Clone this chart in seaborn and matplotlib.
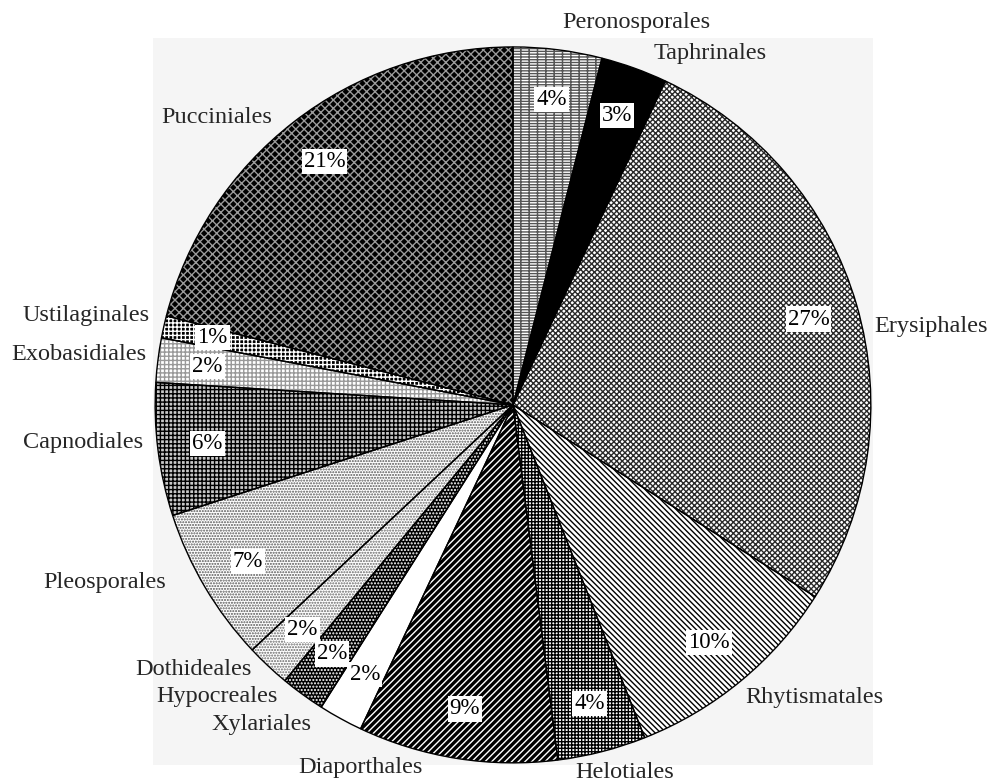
import matplotlib
matplotlib.use("Agg")
import matplotlib.pyplot as plt
import seaborn as sns

sns.set_style("white")
plt.rcParams['font.family'] = ['Liberation Serif', 'DejaVu Serif']
plt.rcParams['hatch.linewidth'] = 1.0

# fungal orders, clockwise from 12 o'clock
orders = ['Peronosporales', 'Taphrinales', 'Erysiphales', 'Rhytismatales', 'Helotiales',
          'Diaporthales', 'Xylariales', 'Hypocreales', 'Dothideales', 'Pleosporales',
          'Capnodiales', 'Exobasidiales', 'Ustilaginales', 'Pucciniales']
shares = [4, 3, 27, 10, 4, 9, 2, 2, 2, 7, 6, 2, 1, 21]

# face colour, hatch, hatch colour
styles = [
    ('white', '------||', '#555555'),
    ('black', '', 'black'),
    ('white', 'xxxxxx', '#2a2a2a'),
    ('white', '\\' * 6, 'black'),
    ('white', '+++++', 'black'),
    ('black', '/////', 'white'),
    ('white', '', 'white'),
    ('black', '.....', 'white'),
    ('white', '......', '#666666'),
    ('white', '......', '#555555'),
    ('#c8c8c8', '++++', 'black'),
    ('white', '++++', '#999999'),
    ('black', '++++', 'white'),
    ('black', 'xxxx', '#9a9a9a'),
]

# outer label positions (pie radius = 1)
label_pos = [(0.344, 1.067), (0.550, 0.983), (1.168, 0.218), (0.841, -0.818),
             (0.313, -1.028), (-0.425, -1.014), (-0.704, -0.894), (-0.827, -0.816),
             (-0.894, -0.740), (-1.140, -0.497), (-1.201, -0.106), (-1.212, 0.140),
             (-1.193, 0.251), (-0.827, 0.802)]

fig = plt.figure(figsize=(9.93, 7.84), dpi=100)
ax = fig.add_axes([153 / 993, (784 - 765) / 784, 720 / 993, 727 / 784])

wedges, _, autotexts = ax.pie(shares, startangle=90, counterclock=False,
                              autopct='%.0f%%', pctdistance=0.86,
                              textprops=dict(fontsize=16.5, color='black'),
                              wedgeprops=dict(linewidth=0))
for w, (face, hatch, hc) in zip(wedges, styles):
    w.set_facecolor(face)
    w.set_edgecolor(hc)
    w.set_hatch(hatch)
    w.set_linewidth(0)

# black outlines on top
ax.pie(shares, startangle=90, counterclock=False,
       wedgeprops=dict(fill=False, edgecolor='black', linewidth=1))

for t in autotexts:
    t.set_bbox(dict(facecolor='white', edgecolor='none', pad=1.5))
    t.set_zorder(5)

for name, (x, y) in zip(orders, label_pos):
    ax.text(x, y, name, ha='center', va='center', fontsize=17.5)

ax.set_frame_on(True)
for s in ax.spines.values():
    s.set_visible(False)
ax.set_facecolor('#f5f5f5')
ax.set_aspect('auto')
ax.set_xlim(-1.006, 1.006)
ax.set_ylim(-1.006, 1.025)
ax.set_xticks([])
ax.set_yticks([])

fig.savefig("out.png", dpi=100)
